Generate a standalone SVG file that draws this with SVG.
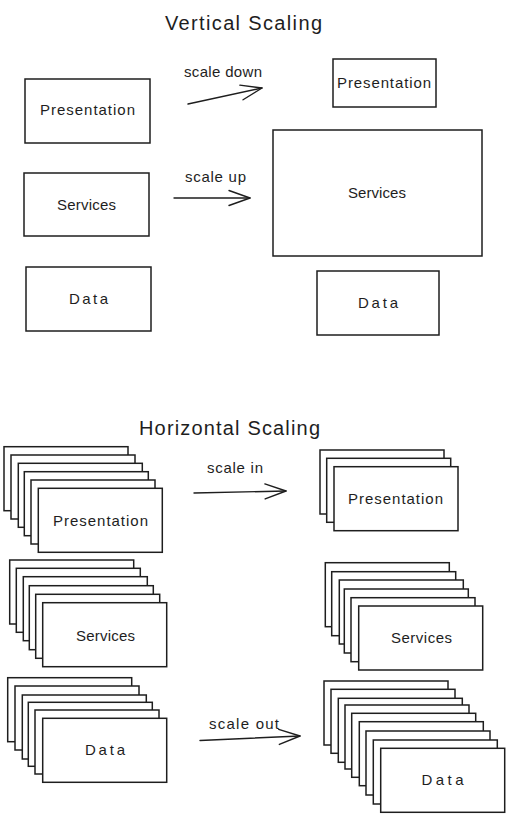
<svg xmlns="http://www.w3.org/2000/svg" width="520" height="825" viewBox="0 0 520 825">
<style>
  .bg { fill: #ffffff; }
  .box { fill: #ffffff; stroke: #1e1e1e; stroke-width: 1.5; }
  .lbl { font-family: "Liberation Sans", Arial, sans-serif; font-size: 15px; fill: #1e1e1e; text-anchor: middle; }
  .title { font-family: "Liberation Sans", Arial, sans-serif; font-size: 20px; fill: #1e1e1e; text-anchor: middle; }
  .edge { fill: none; stroke: #1e1e1e; stroke-width: 1.4; stroke-linecap: round; }
  .head { fill: none; stroke: #1e1e1e; stroke-width: 1.4; stroke-linecap: round; stroke-linejoin: round; }
</style>
<defs>
  <marker id="arrow" markerUnits="userSpaceOnUse" markerWidth="26" markerHeight="20" viewBox="0 0 26 20" refX="23" refY="10" orient="auto">
    <path class="head" d="M2,2.5 L23,10 L2,17.5"/>
  </marker>
</defs>
<rect class="bg" x="0" y="0" width="520" height="825"/>

<!-- Titles -->
<text id="title-vertical" class="title" x="243.5" y="30" textLength="157" lengthAdjust="spacing">Vertical Scaling</text>
<text id="title-horizontal" class="title" x="229.5" y="435" textLength="181" lengthAdjust="spacing">Horizontal Scaling</text>

<!-- Vertical scaling: before -->
<g id="v-presentation-before">
  <rect class="box" x="25" y="79" width="125" height="64"/>
  <text class="lbl" x="87.5" y="115" textLength="95" lengthAdjust="spacing">Presentation</text>
</g>
<g id="v-services-before">
  <rect class="box" x="24" y="173" width="125" height="63"/>
  <text class="lbl" x="86.5" y="210" textLength="59" lengthAdjust="spacing">Services</text>
</g>
<g id="v-data-before">
  <rect class="box" x="26" y="267" width="125" height="64"/>
  <text class="lbl" x="88.5" y="304" textLength="39" lengthAdjust="spacing">Data</text>
</g>

<!-- Vertical scaling: after -->
<g id="v-presentation-after">
  <rect class="box" x="333" y="59" width="103" height="48"/>
  <text class="lbl" x="384" y="88" textLength="94" lengthAdjust="spacing">Presentation</text>
</g>
<g id="v-services-after">
  <rect class="box" x="273" y="130" width="209" height="126"/>
  <text class="lbl" x="377" y="198" textLength="58" lengthAdjust="spacing">Services</text>
</g>
<g id="v-data-after">
  <rect class="box" x="317" y="271" width="122" height="64"/>
  <text class="lbl" x="378" y="308" textLength="40" lengthAdjust="spacing">Data</text>
</g>

<!-- Horizontal scaling: before -->
<g id="h-presentation-before">
  <rect class="box" x="4" y="446.7" width="124" height="64"/>
  <rect class="box" x="11" y="455" width="124" height="64"/>
  <rect class="box" x="18.3" y="463.3" width="124" height="64"/>
  <rect class="box" x="24.3" y="471.7" width="124" height="64"/>
  <rect class="box" x="31" y="480" width="124" height="64"/>
  <rect class="box" x="38.3" y="488.3" width="124" height="64"/>
  <text class="lbl" x="100.5" y="526" textLength="95" lengthAdjust="spacing">Presentation</text>
</g>
<g id="h-services-before">
  <rect class="box" x="9.7" y="560" width="124" height="64"/>
  <rect class="box" x="16.3" y="568.3" width="124" height="64"/>
  <rect class="box" x="23.3" y="576.7" width="124" height="64"/>
  <rect class="box" x="29.3" y="585.7" width="124" height="64"/>
  <rect class="box" x="35.7" y="594.3" width="124" height="64"/>
  <rect class="box" x="42.7" y="602.7" width="124" height="64"/>
  <text class="lbl" x="105.5" y="641" textLength="59" lengthAdjust="spacing">Services</text>
</g>
<g id="h-data-before">
  <rect class="box" x="7.7" y="677.7" width="124" height="64"/>
  <rect class="box" x="15" y="686" width="124" height="64"/>
  <rect class="box" x="22.3" y="695" width="124" height="64"/>
  <rect class="box" x="28.3" y="702.3" width="124" height="64"/>
  <rect class="box" x="35" y="710" width="124" height="64"/>
  <rect class="box" x="42.7" y="718.3" width="124" height="64"/>
  <text class="lbl" x="105" y="755" textLength="40" lengthAdjust="spacing">Data</text>
</g>

<!-- Horizontal scaling: after -->
<g id="h-presentation-after">
  <rect class="box" x="320" y="450" width="124" height="64"/>
  <rect class="box" x="326.7" y="458.3" width="124" height="64"/>
  <rect class="box" x="334" y="466.7" width="124" height="64"/>
  <text class="lbl" x="395.5" y="504" textLength="95" lengthAdjust="spacing">Presentation</text>
</g>
<g id="h-services-after">
  <rect class="box" x="325.3" y="562.7" width="124" height="64"/>
  <rect class="box" x="331.7" y="571.7" width="124" height="64"/>
  <rect class="box" x="339.3" y="580" width="124" height="64"/>
  <rect class="box" x="344.3" y="589" width="124" height="64"/>
  <rect class="box" x="351" y="597.7" width="124" height="64"/>
  <rect class="box" x="358.7" y="606" width="124" height="64"/>
  <text class="lbl" x="421.5" y="643" textLength="61" lengthAdjust="spacing">Services</text>
</g>
<g id="h-data-after">
  <rect class="box" x="324" y="681" width="124" height="64"/>
  <rect class="box" x="331" y="689.3" width="124" height="64"/>
  <rect class="box" x="338.3" y="698.3" width="124" height="64"/>
  <rect class="box" x="345" y="705" width="124" height="64"/>
  <rect class="box" x="351.7" y="713.3" width="124" height="64"/>
  <rect class="box" x="359.3" y="721.7" width="124" height="64"/>
  <rect class="box" x="366" y="731" width="124" height="64"/>
  <rect class="box" x="373.3" y="740" width="124" height="64"/>
  <rect class="box" x="380.7" y="748.3" width="124" height="64"/>
  <text class="lbl" x="442.5" y="785" textLength="42" lengthAdjust="spacing">Data</text>
</g>

<!-- Connectors -->
<g id="connectors">
  <g id="edge-scale-down">
    <path class="edge" d="M188,104 L262,88" marker-end="url(#arrow)"/>
    <text class="lbl" x="223" y="77" textLength="78" lengthAdjust="spacing">scale down</text>
  </g>
  <g id="edge-scale-up">
    <path class="edge" d="M174,198 L250,198" marker-end="url(#arrow)"/>
    <text class="lbl" x="215.5" y="182" textLength="61" lengthAdjust="spacing">scale up</text>
  </g>
  <g id="edge-scale-in">
    <path class="edge" d="M194,493 L286,491" marker-end="url(#arrow)"/>
    <text class="lbl" x="235" y="473" textLength="56" lengthAdjust="spacing">scale in</text>
  </g>
  <g id="edge-scale-out">
    <path class="edge" d="M200,740.5 L300,736" marker-end="url(#arrow)"/>
    <text class="lbl" x="244" y="729" textLength="70" lengthAdjust="spacing">scale out</text>
  </g>
</g>
</svg>
